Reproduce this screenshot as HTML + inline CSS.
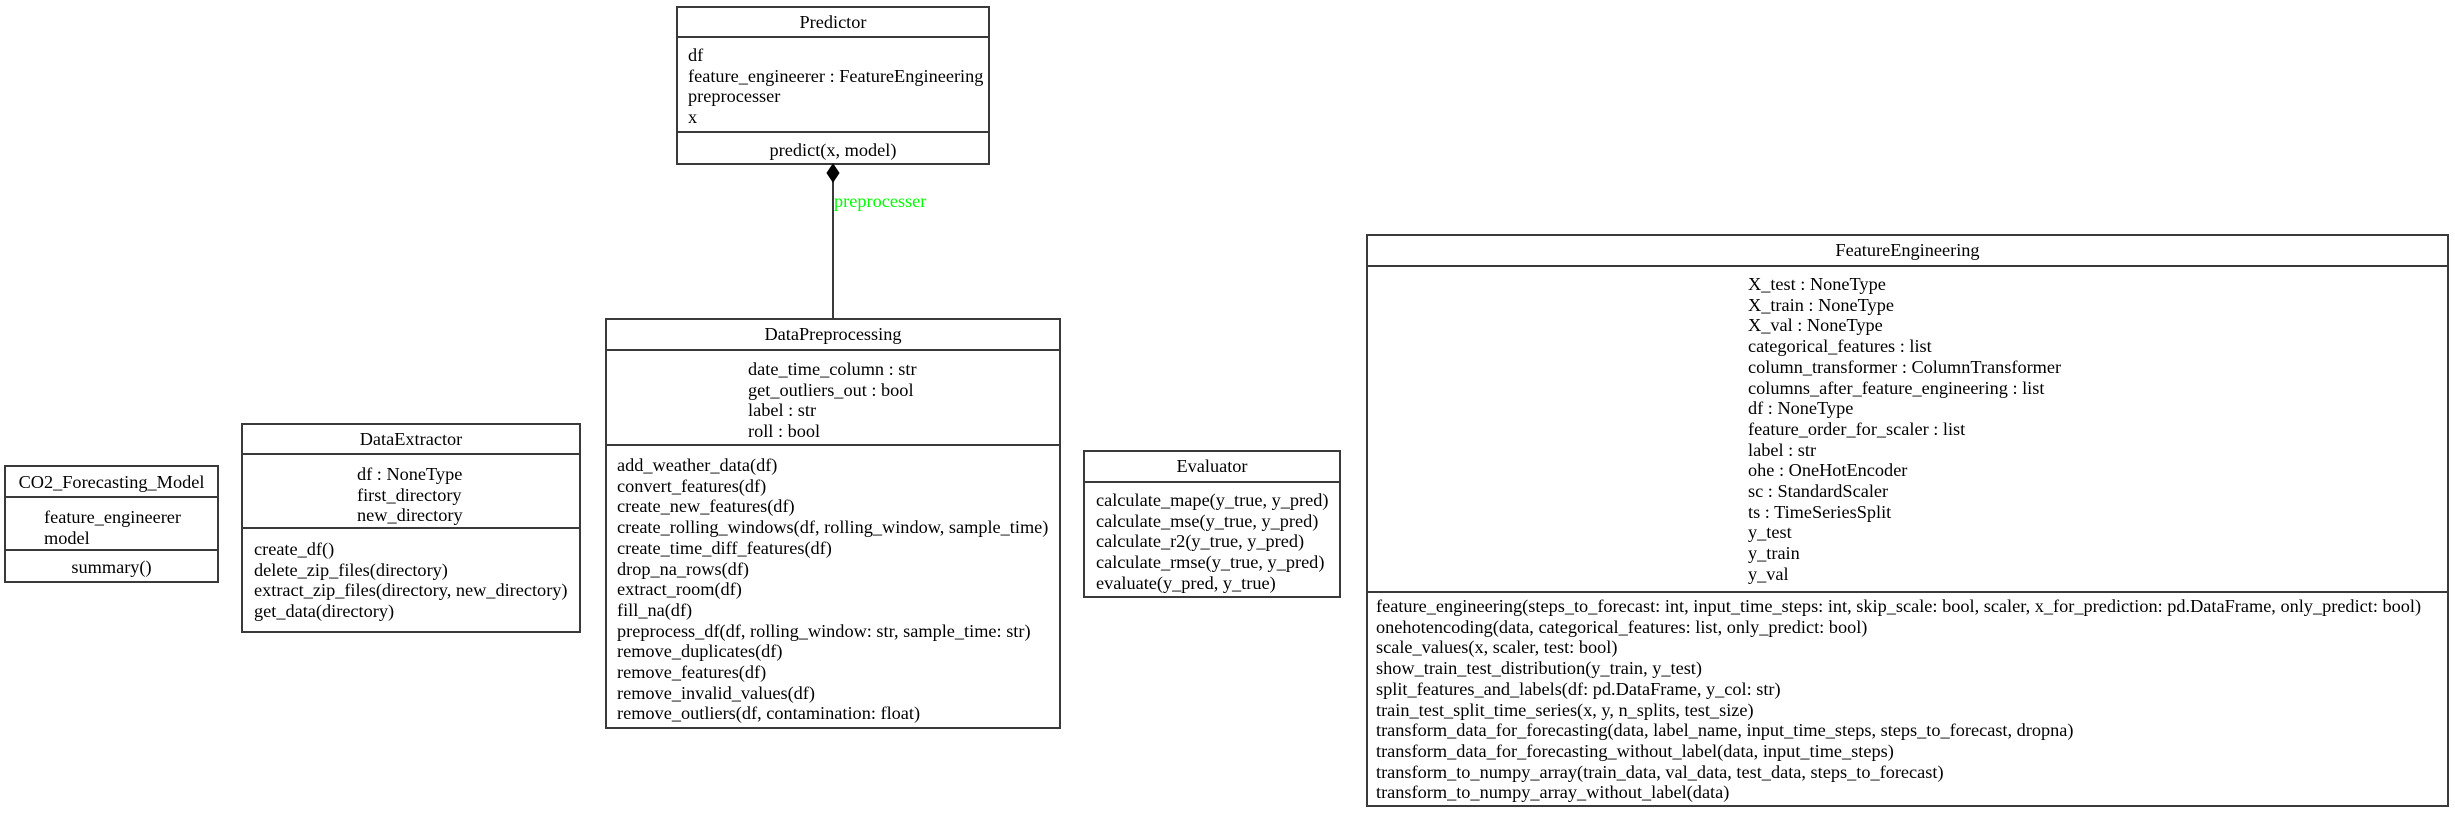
<!DOCTYPE html>
<html><head><meta charset="utf-8"><style>
html,body{margin:0;padding:0;background:#fff;}
body{width:2455px;height:818px;position:relative;overflow:hidden;font-family:"Liberation Serif",serif;font-size:18.3px;color:#000;}
.b{position:absolute;border:2px solid #3a3a3a;box-sizing:border-box;}
.h{position:absolute;height:0;border-top:2px solid #3a3a3a;}
.t{position:absolute;white-space:pre;line-height:20.7px;}
.c{text-align:center;}
</style></head><body>

<!-- CO2_Forecasting_Model -->
<div class="b" style="left:4px;top:465px;width:215px;height:118px"></div>
<div class="h" style="left:4px;top:496px;width:215px"></div>
<div class="h" style="left:4px;top:549px;width:215px"></div>
<div class="t c" style="left:4px;width:215px;top:472px">CO2_Forecasting_Model</div>
<div class="t" style="left:44px;top:507px">feature_engineerer
model</div>
<div class="t c" style="left:4px;width:215px;top:557px">summary()</div>

<!-- DataExtractor -->
<div class="b" style="left:241px;top:423px;width:340px;height:210px"></div>
<div class="h" style="left:241px;top:453px;width:340px"></div>
<div class="h" style="left:241px;top:527px;width:340px"></div>
<div class="t c" style="left:241px;width:340px;top:429px">DataExtractor</div>
<div class="t" style="left:357px;top:464px">df : NoneType
first_directory
new_directory</div>
<div class="t" style="left:254px;top:539px">create_df()
delete_zip_files(directory)
extract_zip_files(directory, new_directory)
get_data(directory)</div>

<!-- Predictor -->
<div class="b" style="left:676px;top:6px;width:314px;height:159px"></div>
<div class="h" style="left:676px;top:36px;width:314px"></div>
<div class="h" style="left:676px;top:131px;width:314px"></div>
<div class="t c" style="left:676px;width:314px;top:12px">Predictor</div>
<div class="t" style="left:688px;top:45px">df
feature_engineerer : FeatureEngineering
preprocesser
x</div>
<div class="t c" style="left:676px;width:314px;top:140px">predict(x, model)</div>

<!-- connector -->
<svg style="position:absolute;left:0;top:0" width="2455" height="818">
<line x1="833" y1="180" x2="833" y2="319" stroke="#3a3a3a" stroke-width="2"/>
<polygon points="833,164 839,173 833,182 827,173" fill="#000" stroke="#000" stroke-width="1"/>
</svg>
<div class="t" style="left:834px;top:191px;color:#00ff00">preprocesser</div>

<!-- DataPreprocessing -->
<div class="b" style="left:605px;top:318px;width:456px;height:411px"></div>
<div class="h" style="left:605px;top:349px;width:456px"></div>
<div class="h" style="left:605px;top:444px;width:456px"></div>
<div class="t c" style="left:605px;width:456px;top:324px">DataPreprocessing</div>
<div class="t" style="left:748px;top:359px">date_time_column : str
get_outliers_out : bool
label : str
roll : bool</div>
<div class="t" style="left:617px;top:455px">add_weather_data(df)
convert_features(df)
create_new_features(df)
create_rolling_windows(df, rolling_window, sample_time)
create_time_diff_features(df)
drop_na_rows(df)
extract_room(df)
fill_na(df)
preprocess_df(df, rolling_window: str, sample_time: str)
remove_duplicates(df)
remove_features(df)
remove_invalid_values(df)
remove_outliers(df, contamination: float)</div>

<!-- Evaluator -->
<div class="b" style="left:1083px;top:450px;width:258px;height:148px"></div>
<div class="h" style="left:1083px;top:481px;width:258px"></div>
<div class="t c" style="left:1083px;width:258px;top:456px">Evaluator</div>
<div class="t" style="left:1096px;top:490px">calculate_mape(y_true, y_pred)
calculate_mse(y_true, y_pred)
calculate_r2(y_true, y_pred)
calculate_rmse(y_true, y_pred)
evaluate(y_pred, y_true)</div>

<!-- FeatureEngineering -->
<div class="b" style="left:1366px;top:234px;width:1083px;height:573px"></div>
<div class="h" style="left:1366px;top:265px;width:1083px"></div>
<div class="h" style="left:1366px;top:591px;width:1083px"></div>
<div class="t c" style="left:1366px;width:1083px;top:240px">FeatureEngineering</div>
<div class="t" style="left:1748px;top:274px">X_test : NoneType
X_train : NoneType
X_val : NoneType
categorical_features : list
column_transformer : ColumnTransformer
columns_after_feature_engineering : list
df : NoneType
feature_order_for_scaler : list
label : str
ohe : OneHotEncoder
sc : StandardScaler
ts : TimeSeriesSplit
y_test
y_train
y_val</div>
<div class="t" style="left:1376px;top:596px">feature_engineering(steps_to_forecast: int, input_time_steps: int, skip_scale: bool, scaler, x_for_prediction: pd.DataFrame, only_predict: bool)
onehotencoding(data, categorical_features: list, only_predict: bool)
scale_values(x, scaler, test: bool)
show_train_test_distribution(y_train, y_test)
split_features_and_labels(df: pd.DataFrame, y_col: str)
train_test_split_time_series(x, y, n_splits, test_size)
transform_data_for_forecasting(data, label_name, input_time_steps, steps_to_forecast, dropna)
transform_data_for_forecasting_without_label(data, input_time_steps)
transform_to_numpy_array(train_data, val_data, test_data, steps_to_forecast)
transform_to_numpy_array_without_label(data)</div>

</body></html>
